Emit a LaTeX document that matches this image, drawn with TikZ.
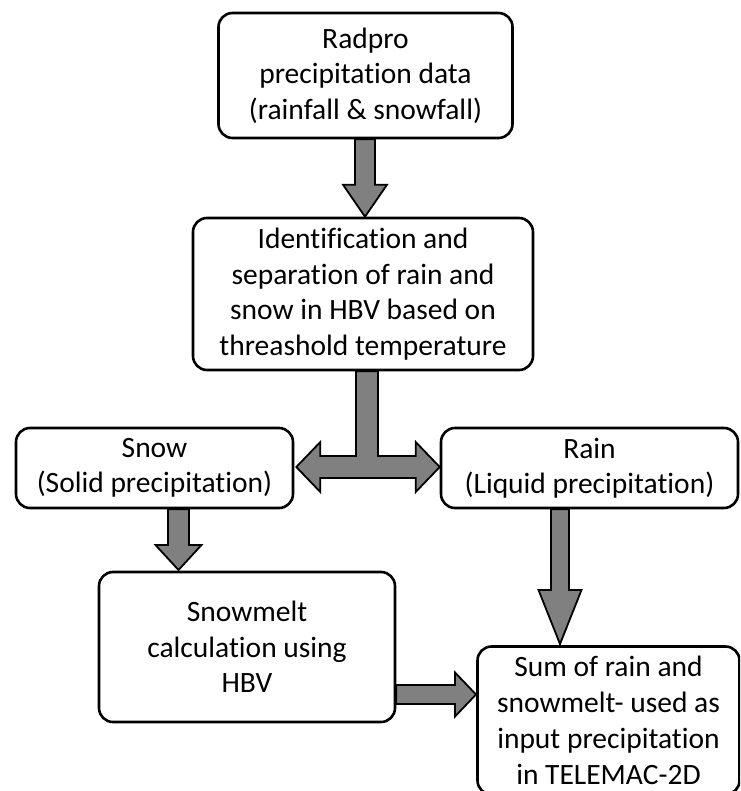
\documentclass[tikz,border=0pt]{standalone}
\usepackage{fontspec}
\setmainfont{Carlito}[Ligatures={NoCommon}]
\usetikzlibrary{calc}
\definecolor{arrgray}{RGB}{128,128,128}
\tikzset{
  box/.style={draw, line width=2.6pt, rounded corners=14pt, fill=white, align=center,
    inner sep=0pt, font=\fontsize{29.5}{35.5}\selectfont},
  blockarrow/.style={draw, line width=1.8pt, fill=arrgray, line join=miter}
}
% vertical down block arrow: #1 shaft half, #2 head half, #3 head length, #4 start, #5 tip
\newcommand\dnarrow[5]{\path[blockarrow] let \p1=#4, \p2=#5 in
  (\x2-#1,\y1) -- (\x2-#1,\y2+#3) -- (\x2-#2,\y2+#3) -- (\x2,\y2) -- (\x2+#2,\y2+#3)
  -- (\x2+#1,\y2+#3) -- (\x2+#1,\y1) -- cycle;}
% horizontal right block arrow
\newcommand\rtarrow[5]{\path[blockarrow] let \p1=#4, \p2=#5 in
  (\x1,\y2+#1) -- (\x2-#3,\y2+#1) -- (\x2-#3,\y2+#2) -- (\x2,\y2) -- (\x2-#3,\y2-#2)
  -- (\x2-#3,\y2-#1) -- (\x1,\y2-#1) -- cycle;}
\begin{document}
\begin{tikzpicture}[x=1pt,y=-1pt]
\useasboundingbox (0,0) rectangle (740,791);
\clip (0,0) rectangle (740,791);

\node[box, minimum width=294pt, minimum height=125pt] (b1) at (365.5,75.5)
  {Radpro\\precipitation data\\(rainfall \& snowfall)};
\node[box, minimum width=340pt, minimum height=152pt] (b2) at (363,294)
  {Identification and\\separation of rain and\\snow in HBV based on\\threashold temperature};
\node[box, minimum width=277pt, minimum height=80pt] (snow) at (154.5,468)
  {Snow\\(Solid precipitation)};
\node[box, minimum width=297pt, minimum height=80pt] (rain) at (589.5,468)
  {Rain\\(Liquid precipitation)};
\node[box, minimum width=296pt, minimum height=150pt] (melt) at (247,647)
  {Snowmelt\\calculation using\\HBV};
\node[box, minimum width=262pt, minimum height=148pt, font=\fontsize{29.5}{36}\selectfont]
  (sum) at (608.5,720.5)
  {Sum of rain and\\snowmelt- used as\\input precipitation\\in TELEMAC-2D};

% arrows
\coordinate (a1s) at ($(b1.south)+(-0.5,0)$);
\coordinate (a1t) at ($(b2.north)+(2,0)$);
\dnarrow{10pt}{22pt}{32pt}{(a1s)}{(a1t)}

\coordinate (a2t) at (178.5,570);
\dnarrow{10.5pt}{23pt}{25pt}{(snow.south)}{(a2t)}

\coordinate (a3t) at (560,644);
\dnarrow{9pt}{21.5pt}{54pt}{(rain.south)}{(a3t)}

\coordinate (a4t) at (476,694.5);
\rtarrow{9.5pt}{22pt}{21pt}{(melt.east)}{(a4t)}

% T-shaped double arrow
\coordinate (dl) at ($(snow.east)+(2,-1)$);
\coordinate (dr) at ($(rain.west)+(0,-1)$);
\path[blockarrow] let \p1=(dl), \p2=(dr), \p3=(b2.south) in
  (\x1,\y1) -- (\x1+24pt,\y1+25pt) -- (\x1+24pt,\y1+11pt) -- (\x3-7pt,\y1+11pt)
  -- (\x3-7pt,\y3) -- (\x3+15pt,\y3) -- (\x3+15pt,\y1+11pt) -- (\x2-24pt,\y1+11pt)
  -- (\x2-24pt,\y1+25pt) -- (\x2,\y1) -- (\x2-24pt,\y1-25pt) -- (\x2-24pt,\y1-11pt)
  -- (\x1+24pt,\y1-11pt) -- (\x1+24pt,\y1-25pt) -- cycle;
\end{tikzpicture}
\end{document}
